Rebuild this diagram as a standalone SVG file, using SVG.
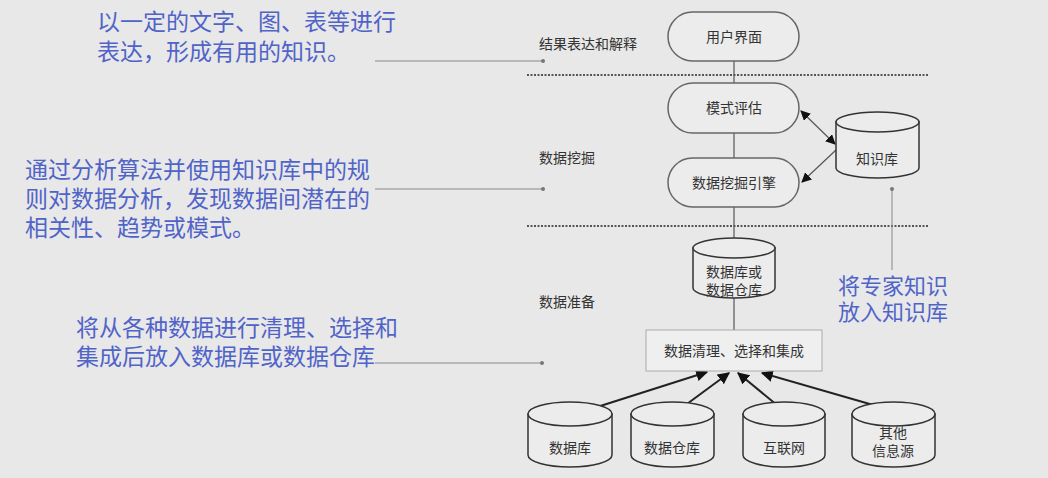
<svg xmlns="http://www.w3.org/2000/svg" width="1048" height="478" viewBox="0 0 1048 478">
<defs>
<style>
.lbl{font-family:"Liberation Sans","Noto Sans CJK SC",sans-serif;font-size:14px;fill:#333;text-anchor:middle}
.sec{font-family:"Liberation Sans","Noto Sans CJK SC",sans-serif;font-size:14px;fill:#333}
.ann{font-family:"Liberation Sans","Noto Sans CJK SC",sans-serif;font-size:23px;fill:#5064c8}
.ann2{font-family:"Liberation Sans","Noto Sans CJK SC",sans-serif;font-size:22px;fill:#5064c8}
.stad{fill:#ececec;stroke:#666;stroke-width:1.5}
.cyl{fill:#ececec;stroke:#333;stroke-width:1.5}
.dot{stroke:#555;stroke-width:2;stroke-dasharray:2 1.5}
.pin{stroke:#888;stroke-width:1;fill:none}
.link{stroke:#555;stroke-width:1.2;fill:none}
.arr{stroke:#222;stroke-width:2;fill:none}
</style>
<marker id="ah" viewBox="0 0 10 10" refX="9" refY="5" markerWidth="10" markerHeight="10" markerUnits="userSpaceOnUse" orient="auto-start-reverse">
<path d="M0,0 L10,5 L0,10 z" fill="#111"/>
</marker>
<marker id="ah2" viewBox="0 0 10 10" refX="9" refY="5" markerWidth="12" markerHeight="12" markerUnits="userSpaceOnUse" orient="auto">
<path d="M0,0 L10,5 L0,10 z" fill="#111"/>
</marker>
</defs>
<rect x="0" y="0" width="1048" height="478" fill="#e8e8e8"/>

<g id="dividers">
<line class="dot" x1="527" y1="75" x2="928" y2="75"/>
<line class="dot" x1="527" y1="226" x2="928" y2="226"/>
</g>

<g id="section-labels">
<text class="sec" x="539" y="49">结果表达和解释</text>
<text class="sec" x="539" y="163">数据挖掘</text>
<text class="sec" x="539" y="307">数据准备</text>
</g>

<g id="connectors">
<line class="link" x1="734" y1="61" x2="734" y2="83"/>
<line class="link" x1="734" y1="133" x2="734" y2="158"/>
<line class="link" x1="734" y1="207" x2="734" y2="240"/>
<line class="link" x1="734" y1="298" x2="734" y2="330"/>
<line class="link" x1="801" y1="111" x2="835" y2="144" marker-start="url(#ah)" marker-end="url(#ah)"/>
<line class="link" x1="836" y1="150" x2="802" y2="182" marker-end="url(#ah)"/>
<line class="arr" x1="572" y1="415" x2="707" y2="372" marker-end="url(#ah2)"/>
<line class="arr" x1="672" y1="415" x2="729" y2="373" marker-end="url(#ah2)"/>
<line class="arr" x1="789" y1="415" x2="738" y2="373" marker-end="url(#ah2)"/>
<line class="arr" x1="894" y1="411" x2="762" y2="373" marker-end="url(#ah2)"/>
</g>

<g id="pins">
<line class="pin" x1="375" y1="61" x2="543" y2="61"/><circle cx="543" cy="61" r="2" fill="#777"/>
<line class="pin" x1="375" y1="189" x2="543" y2="189"/><circle cx="543" cy="189" r="2" fill="#777"/>
<line class="pin" x1="375" y1="363" x2="542" y2="363"/><circle cx="542" cy="363" r="2" fill="#777"/>
<line class="pin" x1="892" y1="189" x2="892" y2="270"/><circle cx="892" cy="189" r="2" fill="#777"/>
</g>

<g id="n-ui">
<rect class="stad" x="668" y="12" width="131" height="49" rx="24.5"/>
<text class="lbl" x="734" y="42">用户界面</text>
</g>
<g id="n-eval">
<rect class="stad" x="668" y="83" width="131" height="50" rx="25"/>
<text class="lbl" x="734" y="113">模式评估</text>
</g>
<g id="n-engine">
<rect class="stad" x="668" y="158" width="131" height="49" rx="24.5"/>
<text class="lbl" x="734" y="188">数据挖掘引擎</text>
</g>
<g id="n-kb">
<path class="cyl" d="M836,122 L836,168 A41.5,10 0 0 0 919,168 L919,122 Z"/>
<ellipse class="cyl" cx="877.5" cy="122" rx="41.5" ry="10"/>
<text class="lbl" x="877" y="164">知识库</text>
</g>
<g id="n-dw">
<path class="cyl" d="M693,248 L693,288 A41,10 0 0 0 775,288 L775,248 Z"/>
<ellipse class="cyl" cx="734" cy="248" rx="41" ry="10"/>
<text class="lbl" x="734" y="277">数据库或<tspan x="734" dy="18">数据仓库</tspan></text>
</g>
<g id="n-clean">
<rect x="646" y="330" width="176" height="41" fill="#efefef" stroke="#aaa" stroke-width="1"/>
<text class="lbl" x="734" y="356">数据清理、选择和集成</text>
</g>
<g id="n-db">
<path class="cyl" d="M528,414 L528,455 A42,12 0 0 0 612,455 L612,414 Z"/>
<ellipse class="cyl" cx="570" cy="414" rx="42" ry="12"/>
<text class="lbl" x="570" y="453">数据库</text>
</g>
<g id="n-wh">
<path class="cyl" d="M631,414 L631,455 A41.5,12 0 0 0 714,455 L714,414 Z"/>
<ellipse class="cyl" cx="672.5" cy="414" rx="41.5" ry="12"/>
<text class="lbl" x="672" y="453">数据仓库</text>
</g>
<g id="n-net">
<path class="cyl" d="M743,414 L743,455 A41,12 0 0 0 825,455 L825,414 Z"/>
<ellipse class="cyl" cx="784" cy="414" rx="41" ry="12"/>
<text class="lbl" x="784" y="453">互联网</text>
</g>
<g id="n-other">
<path class="cyl" d="M852,414 L852,455 A41.5,12 0 0 0 935,455 L935,414 Z"/>
<ellipse class="cyl" cx="893.5" cy="414" rx="41.5" ry="12"/>
<text class="lbl" x="893" y="438">其他<tspan x="893" dy="18">信息源</tspan></text>
</g>

<g id="annotations">
<text class="ann" x="97" y="30">以一定的文字、图、表等进行<tspan x="97" dy="30">表达，形成有用的知识。</tspan></text>
<text class="ann" x="25" y="178">通过分析算法并使用知识库中的规<tspan x="25" dy="29">则对数据分析，发现数据间潜在的</tspan><tspan x="25" dy="29">相关性、趋势或模式。</tspan></text>
<text class="ann" x="76" y="336">将从各种数据进行清理、选择和<tspan x="76" dy="29">集成后放入数据库或数据仓库</tspan></text>
<text class="ann2" x="838" y="294">将专家知识<tspan x="838" dy="26">放入知识库</tspan></text>
</g>
</svg>
